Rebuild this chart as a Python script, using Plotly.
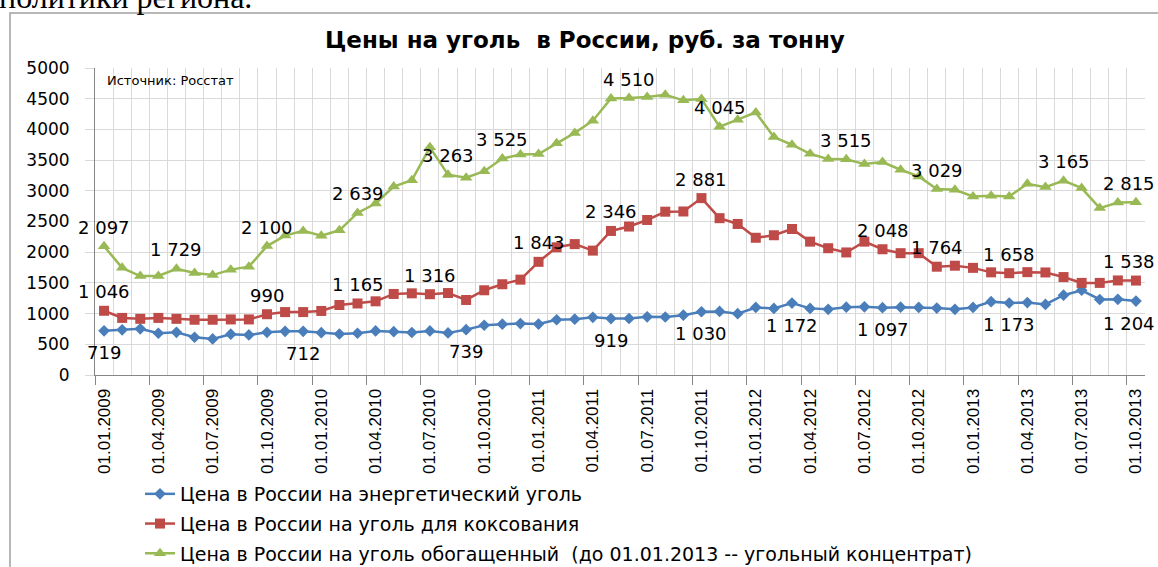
import plotly.graph_objects as go

# ---- data -------------------------------------------------------------
months = [f"01.{m:02d}.{y}" for y in range(2009, 2014) for m in range(1, 13)][:58]
tick_labels = months[::3]

series_names = [
    "Цена в России на энергетический уголь",
    "Цена в России на уголь для коксования",
    "Цена в России на уголь обогащенный  (до 01.01.2013 -- угольный концентрат)",
]

energy = [719, 735, 752, 680, 695, 615, 588, 665, 652, 695,
          712, 712, 690, 668, 680, 718, 706, 692, 718, 685,
          739, 810, 828, 838, 830, 900, 910, 940, 919, 920,
          948, 945, 975, 1030, 1035, 998, 1100, 1085, 1172, 1085,
          1070, 1105, 1110, 1097, 1105, 1100, 1090, 1070, 1100, 1195,
          1173, 1180, 1150, 1300, 1380, 1230, 1232, 1204]

coking = [1046, 930, 915, 930, 915, 900, 900, 905, 905, 990,
          1025, 1025, 1043, 1140, 1165, 1200, 1320, 1330, 1316, 1335,
          1222, 1380, 1478, 1553, 1843, 2080, 2132, 2026, 2346, 2418,
          2525, 2660, 2663, 2881, 2554, 2460, 2235, 2276, 2378, 2172,
          2065, 1996, 2172, 2048, 1984, 1984, 1764, 1780, 1745, 1672,
          1658, 1675, 1670, 1595, 1500, 1500, 1540, 1538]

enriched = [2097, 1745, 1612, 1612, 1729, 1660, 1627, 1716, 1765, 2100,
            2271, 2347, 2268, 2357, 2639, 2793, 3069, 3172, 3708, 3263,
            3213, 3319, 3525, 3590, 3600, 3775, 3943, 4142, 4505, 4510,
            4527, 4565, 4473, 4495, 4045, 4158, 4277, 3875, 3750, 3603,
            3516, 3515, 3435, 3468, 3343, 3234, 3029, 3016, 2908, 2919,
            2908, 3114, 3060, 3165, 3044, 2718, 2810, 2815]

energy_label_idx = [0, 11, 20, 28, 33, 38, 43, 50, 57]
coking_label_idx = [0, 9, 14, 18, 24, 28, 33, 43, 46, 50, 57]
enriched_label_idx = [0, 4, 9, 14, 19, 22, 29, 34, 41, 46, 53, 57]

title_text = "Цены на уголь  в России, руб. за тонну"
source_text = "Источник: Росстат"
page_text = "политики региона."

# ---- styles -------------------------------------------------------------
W, H = 1158, 567
ML, MR, MT, MB = 95, 13, 68, 192
PW, PH = W - ML - MR, H - MT - MB


def px(xp):
    return (xp - ML) / PW


def py(yp):
    return (H - MB - yp) / PH


colors = ["#4A7EBB", "#BE4B48", "#98B954"]
symbols = ["diamond", "square", "triangle-up"]
msizes = [9, 10, 11]
grid = "#D9D9D9"
axis_col = "#868686"
label_font = dict(family="DejaVu Sans", size=18, color="#000000")

x_idx = list(range(len(months)))
fig = go.Figure()

all_series = [energy, coking, enriched]
for k, (name, vals) in enumerate(zip(series_names, all_series)):
    fig.add_trace(go.Scatter(
        x=x_idx, y=vals, name=name, mode="lines+markers",
        line=dict(color=colors[k], width=2.5),
        marker=dict(symbol=symbols[k], size=msizes[k], color=colors[k]),
        legendgroup=f"g{k}", hoverinfo="skip",
    ))

# invisible trace for the boundary-tick axis
fig.add_trace(go.Scatter(x=[0], y=[0], xaxis="x2", mode="markers",
                         marker=dict(opacity=0), showlegend=False, hoverinfo="skip"))


def fmt(v):
    return f"{v:,}".replace(",", " ")


last = len(months) - 1
annotations = []
for vals, idxs, shift in [(energy, energy_label_idx, -22),
                          (coking, coking_label_idx, 19),
                          (enriched, enriched_label_idx, 19)]:
    for i in idxs:
        annotations.append(dict(x=i, y=vals[i], xref="x", yref="y", text=fmt(vals[i]),
                                showarrow=False, yshift=shift,
                                xshift=-7 if i == last else 0, font=label_font))

annotations.append(dict(text=title_text, xref="paper", yref="paper",
                        x=px(585), y=py(40), xanchor="center", yanchor="middle",
                        showarrow=False,
                        font=dict(family="DejaVu Sans", size=23, color="#000000", weight="bold")))
annotations.append(dict(text=source_text, xref="paper", yref="paper",
                        x=px(105), y=py(80), xanchor="left", yanchor="middle",
                        showarrow=False, font=dict(family="DejaVu Sans", size=13, color="#000000")))
annotations.append(dict(text=page_text, xref="paper", yref="paper",
                        x=px(-3), y=py(17), xanchor="left", yanchor="bottom",
                        showarrow=False, font=dict(family="Liberation Serif", size=32, color="#000000")))

n = len(months)
boundaries = [i - 0.5 for i in range(n + 1)]
fig.update_layout(
    width=W, height=H,
    margin=dict(l=ML, r=MR, t=MT, b=MB, autoexpand=False),
    paper_bgcolor="white", plot_bgcolor="white",
    showlegend=True,
    legend=dict(xref="container", yref="container", x=140 / W, y=1 - 475 / H,
                xanchor="left", yanchor="top", tracegroupgap=2,
                font=dict(family="DejaVu Sans", size=19, color="#000000"),
                bgcolor="rgba(0,0,0,0)"),
    xaxis=dict(range=[-0.5, n - 0.5], tickmode="array", tickvals=x_idx[::3],
               ticktext=tick_labels, tickangle=-90, ticks="", showgrid=False,
               zeroline=False, showline=True, linecolor=axis_col, linewidth=1,
               tickfont=dict(family="Liberation Sans", size=17, color="#000000"),
               ticklabelstandoff=6, automargin=False,
               minor=dict(tickmode="array", tickvals=boundaries, showgrid=True,
                          gridcolor=grid, gridwidth=1, ticks="")),
    xaxis2=dict(range=[-0.5, n - 0.5], overlaying="x", anchor="y", side="bottom",
                tickmode="array", tickvals=boundaries[::3], ticks="outside",
                ticklen=9, tickcolor=axis_col, showticklabels=False, automargin=False,
                showgrid=False, zeroline=False, showline=False),
    yaxis=dict(range=[0, 5000], dtick=500, tick0=0, showgrid=True, gridcolor=grid,
               zeroline=False, showline=True, linecolor=axis_col, ticks="outside",
               ticklen=9, tickcolor=grid, ticklabelstandoff=12, automargin=False,
               tickfont=dict(family="DejaVu Sans", size=17, color="#000000")),
    annotations=annotations,
    shapes=[dict(type="rect", xref="paper", yref="paper",
                 x0=px(10), x1=px(W + 40), y0=py(H + 40), y1=py(13),
                 line=dict(color="#A0A0A0", width=1.5), layer="below")],
)

fig.write_html("out.html", config={"displayModeBar": False},
               post_script="document.body.style.margin='0';document.body.style.overflow='hidden';")
